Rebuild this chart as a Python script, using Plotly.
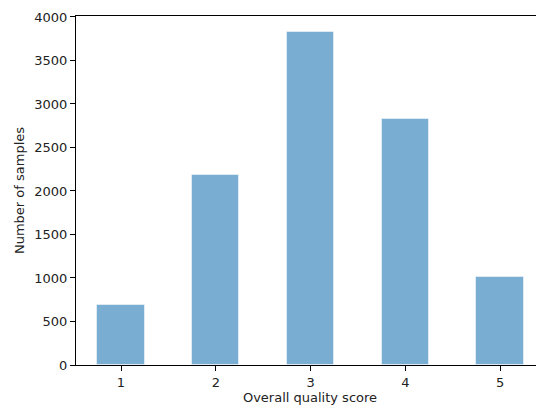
import plotly.graph_objects as go

scores = [1, 2, 3, 4, 5]
counts = [690, 2180, 3830, 2830, 1015]
y_ticks = [0, 500, 1000, 1500, 2000, 2500, 3000, 3500, 4000]

fig = go.Figure(go.Bar(
    x=scores, y=counts, width=0.5,
    marker=dict(color="rgba(31,119,180,0.6)", line=dict(color="rgba(255,255,255,0.5)", width=1)),
))

font = dict(family="DejaVu Sans", size=13, color="#222")
# page body has an 8px default margin; figure is sized to fill the rest of the window
fig.update_layout(
    width=536, height=402,
    margin=dict(l=68, r=0, t=8, b=45, autoexpand=False),
    plot_bgcolor="white", paper_bgcolor="white",
    font=font, showlegend=False, bargap=0,
)
fig.update_xaxes(
    range=[0.525, 5.464], tickvals=scores, ticktext=[str(s) for s in scores],
    showline=True, linecolor="black", linewidth=1, mirror=True, automargin=False,
    ticks="outside", ticklen=5, tickcolor="black", showgrid=False, zeroline=False,
    title=dict(text="Overall quality score", standoff=4, font=font),
)
fig.update_yaxes(
    range=[0, 4011], tickvals=y_ticks, automargin=False,
    showline=True, linecolor="black", linewidth=1,
    ticks="outside", ticklen=5, tickcolor="black", showgrid=False, zeroline=False,
    title=dict(text="Number of samples", standoff=6, font=font),
)
fig.write_html("out.html")
